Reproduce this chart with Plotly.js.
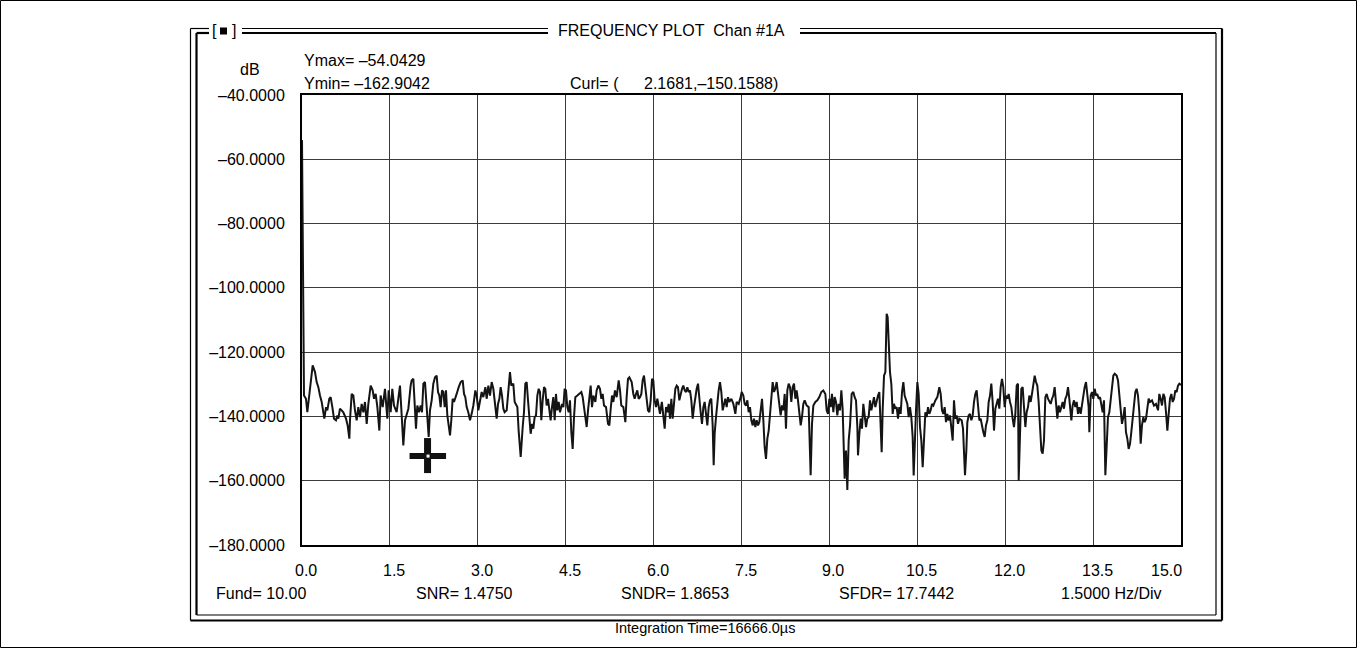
<!DOCTYPE html>
<html><head><meta charset="utf-8">
<script src="https://cdn.plot.ly/plotly-3.0.1.min.js"></script>
<style>html,body{margin:0;padding:0;background:#fff;}#chart{width:1357px;height:648px;}</style>
</head><body><div id="chart"></div>
<script>
// ---- data ----
const spectrum = [ // [frequency Hz, level dB]
[0.000,-54.04],[0.012,-97.9],[0.024,-131.5],
[0.034,-133.5],[0.068,-134.5],[0.091,-138.7],[0.182,-124.1],[0.222,-126.2],[0.250,-129.3],[0.279,-130.9],[0.307,-133.5],[0.336,-135.5],[0.364,-138.7],[0.381,-140.7],[0.410,-137.1],[0.432,-138.1],[0.466,-134.5],[0.489,-134.0],[0.518,-137.1],[0.546,-140.7],[0.580,-141.2],[0.603,-139.7],[0.620,-140.7],[0.648,-137.6],[0.677,-138.1],[0.705,-138.7],[0.751,-140.7],[0.779,-142.8],[0.808,-146.9],[0.819,-141.2],[0.848,-133.0],[0.876,-133.5],[0.904,-138.1],[0.933,-141.2],[0.961,-137.1],[0.990,-140.2],[1.018,-136.1],[1.047,-138.7],[1.075,-135.5],[1.104,-142.3],[1.132,-136.1],[1.172,-130.4],[1.206,-131.9],[1.229,-134.5],[1.257,-133.0],[1.286,-137.1],[1.320,-144.4],[1.342,-133.5],[1.377,-137.1],[1.416,-131.4],[1.456,-140.7],[1.479,-131.9],[1.513,-138.7],[1.541,-131.4],[1.570,-136.6],[1.615,-138.7],[1.650,-133.5],[1.672,-130.4],[1.706,-141.2],[1.729,-149.0],[1.758,-141.2],[1.786,-139.7],[1.815,-137.6],[1.854,-130.4],
[1.871,-128.8],[1.900,-128.3],[1.923,-137.1],[1.945,-143.8],[1.968,-136.6],[1.997,-138.7],[2.025,-136.6],[2.048,-138.7],[2.071,-129.8],[2.099,-129.3],[2.116,-134.0],[2.139,-140.2],[2.162,-146.4],[2.184,-138.1],[2.213,-135.0],[2.241,-129.8],[2.270,-127.8],[2.298,-127.3],[2.321,-132.4],[2.344,-133.5],[2.366,-137.1],[2.389,-131.9],[2.412,-132.4],[2.435,-137.1],[2.457,-131.9],[2.480,-139.7],[2.503,-143.3],[2.526,-145.9],[2.548,-141.2],[2.571,-134.5],[2.594,-135.5],[2.617,-134.5],[2.639,-133.0],[2.674,-130.9],[2.708,-129.3],[2.742,-128.8],[2.765,-133.0],[2.787,-134.0],[2.810,-137.1],[2.838,-138.7],[2.867,-141.2],[2.895,-139.2],[2.924,-136.6],[2.958,-131.9],[2.981,-133.5],[3.009,-138.1],[3.038,-134.5],[3.066,-132.4],[3.094,-134.0],[3.129,-130.9],[3.151,-134.5],[3.180,-130.4],[3.208,-133.5],[3.237,-129.3],[3.265,-131.4],[3.294,-137.1],[3.322,-140.7],[3.345,-136.1],[3.368,-134.5],[3.390,-130.9],[3.413,-133.5],[3.436,-137.6],[3.458,-138.7],[3.493,-138.1],[3.527,-129.8],[3.549,-126.2],[3.572,-130.4],[3.606,-129.8],[3.629,-135.5],[3.652,-136.1],[3.675,-137.1],[3.697,-144.4],[3.732,-152.6],
[3.766,-143.3],[3.788,-138.7],[3.811,-129.8],[3.834,-129.3],[3.857,-135.0],[3.879,-141.2],[3.902,-145.4],[3.925,-142.3],[3.948,-143.8],[3.970,-140.2],[3.993,-139.7],[4.016,-133.5],[4.039,-131.4],[4.061,-132.4],[4.084,-141.2],[4.107,-135.0],[4.130,-130.9],[4.152,-131.4],[4.175,-136.6],[4.198,-134.5],[4.221,-138.7],[4.243,-141.2],[4.266,-137.1],[4.289,-134.0],[4.312,-141.2],[4.334,-133.0],[4.357,-138.1],[4.380,-135.5],[4.403,-138.7],[4.437,-136.1],[4.460,-137.1],[4.482,-131.4],[4.505,-131.9],[4.528,-137.1],[4.551,-138.7],[4.573,-135.0],[4.596,-144.9],[4.619,-150.1],[4.642,-140.2],[4.664,-134.0],[4.699,-133.5],[4.733,-133.0],[4.767,-132.4],[4.790,-134.0],[4.812,-137.1],[4.835,-140.2],[4.858,-143.3],[4.881,-138.1],[4.903,-133.0],[4.926,-130.4],[4.949,-137.1],[4.972,-133.5],[5.006,-135.5],[5.028,-131.9],[5.057,-130.4],[5.085,-131.4],[5.108,-134.5],[5.131,-133.0],[5.154,-136.6],[5.188,-137.1],[5.222,-142.3],[5.245,-142.8],[5.268,-137.6],[5.290,-133.5],[5.313,-135.5],[5.341,-131.9],[5.370,-134.0],[5.404,-128.8],[5.427,-131.9],[5.449,-136.6],[5.484,-137.1],[5.518,-141.8],[5.540,-134.0],[5.563,-128.3],[5.586,-127.8],
[5.626,-129.3],[5.654,-133.0],[5.677,-134.5],[5.700,-133.0],[5.722,-131.9],[5.745,-134.5],[5.768,-134.0],[5.791,-133.0],[5.813,-128.8],[5.836,-127.3],[5.859,-130.9],[5.882,-134.0],[5.904,-138.1],[5.927,-138.7],[5.950,-135.0],[5.973,-128.3],[5.995,-128.8],[6.018,-135.0],[6.041,-137.1],[6.064,-134.5],[6.086,-137.1],[6.109,-139.2],[6.141,-135.5],[6.166,-140.2],[6.189,-143.8],[6.212,-137.1],[6.235,-138.7],[6.257,-136.1],[6.280,-140.7],[6.303,-134.5],[6.325,-140.7],[6.348,-136.1],[6.371,-131.4],[6.394,-130.4],[6.416,-130.9],[6.439,-135.0],[6.462,-133.0],[6.485,-131.4],[6.507,-130.4],[6.530,-131.9],[6.553,-132.4],[6.576,-130.9],[6.598,-132.4],[6.621,-131.9],[6.644,-135.0],[6.667,-140.7],[6.689,-137.1],[6.712,-133.5],[6.735,-131.4],[6.758,-129.8],[6.780,-135.0],[6.803,-138.7],[6.826,-142.3],[6.849,-137.1],[6.871,-135.5],[6.894,-140.2],[6.917,-142.8],[6.940,-137.1],[6.962,-135.0],[6.985,-134.5],[7.008,-142.8],[7.025,-155.2],[7.042,-145.4],[7.065,-140.2],[7.088,-134.5],[7.110,-131.9],[7.133,-129.3],[7.156,-132.4],[7.179,-138.1],[7.201,-136.6],[7.224,-134.5],[7.247,-137.1],[7.270,-134.0],[7.292,-135.5],[7.327,-134.5],[7.361,-136.1],[7.395,-139.2],[7.418,-135.5],[7.452,-136.1],[7.486,-134.0],
[7.503,-132.4],[7.531,-133.5],[7.554,-136.1],[7.577,-136.6],[7.600,-135.0],[7.622,-138.7],[7.645,-137.1],[7.668,-141.2],[7.691,-142.8],[7.713,-140.7],[7.736,-143.3],[7.759,-141.2],[7.782,-142.8],[7.804,-141.8],[7.827,-137.1],[7.850,-134.5],[7.873,-141.2],[7.895,-149.5],[7.918,-153.2],[7.941,-146.9],[7.964,-144.4],[7.986,-140.2],[8.009,-134.5],[8.032,-129.3],[8.055,-132.4],[8.077,-131.4],[8.100,-129.3],[8.123,-133.5],[8.146,-135.5],[8.168,-139.7],[8.191,-136.6],[8.214,-138.1],[8.237,-133.0],[8.259,-143.8],[8.282,-131.9],[8.305,-129.8],[8.328,-130.9],[8.350,-135.5],[8.373,-130.9],[8.396,-129.8],[8.419,-134.5],[8.441,-131.9],[8.464,-135.0],[8.487,-138.7],[8.510,-142.8],[8.532,-140.2],[8.555,-136.1],[8.578,-135.0],[8.612,-136.6],[8.646,-137.1],[8.669,-147.5],[8.680,-158.3],[8.703,-142.3],[8.726,-136.6],[8.760,-135.5],[8.794,-135.0],[8.828,-134.0],[8.862,-132.4],[8.896,-131.9],[8.931,-133.0],[8.953,-138.1],[8.976,-139.2],[8.999,-134.5],[9.022,-137.1],[9.044,-133.0],[9.067,-138.7],[9.090,-134.0],[9.113,-135.5],[9.135,-139.7],[9.158,-136.1],[9.181,-138.1],[9.204,-131.9],[9.226,-137.6],[9.249,-152.6],[9.260,-159.4],[9.283,-150.6],[9.306,-162.90],[9.329,-147.5],[9.352,-142.8],
[9.380,-133.0],[9.408,-132.4],[9.431,-134.0],[9.454,-135.0],[9.477,-143.3],[9.488,-152.1],[9.511,-145.4],[9.534,-140.7],[9.556,-143.8],[9.579,-136.1],[9.602,-139.7],[9.625,-143.3],[9.647,-140.7],[9.670,-140.2],[9.693,-135.0],[9.716,-138.1],[9.738,-136.1],[9.761,-134.0],[9.784,-137.1],[9.807,-135.0],[9.829,-133.5],[9.852,-132.4],[9.875,-142.3],[9.892,-151.1],[9.909,-138.1],[9.932,-127.3],[9.955,-126.2],[9.977,-108.1],[9.994,-109.1],[10.011,-117.4],[10.034,-126.2],[10.057,-129.9],[10.080,-139.2],[10.102,-136.1],[10.125,-137.6],[10.148,-137.1],[10.171,-140.7],[10.193,-137.1],[10.216,-139.2],[10.239,-132.4],[10.262,-129.3],[10.284,-133.5],[10.307,-135.0],[10.330,-136.1],[10.353,-140.2],[10.375,-137.1],[10.398,-140.2],[10.421,-146.4],[10.438,-158.4],[10.455,-147.5],[10.478,-138.1],[10.501,-129.3],[10.523,-133.0],[10.546,-143.3],[10.569,-147.5],[10.592,-155.8],[10.614,-146.4],[10.637,-138.7],[10.660,-140.2],[10.683,-137.1],[10.705,-139.2],[10.728,-138.1],[10.751,-136.1],[10.774,-136.6],[10.808,-135.0],[10.842,-134.0],[10.876,-130.9],[10.899,-133.0],[10.922,-138.1],[10.944,-139.2],[10.967,-137.1],[10.990,-141.8],[11.013,-139.2],[11.035,-141.3],[11.058,-139.7],[11.081,-143.3],[11.104,-147.5],[11.126,-135.0],[11.149,-140.7],[11.172,-139.7],[11.195,-142.3],[11.217,-140.7],
[11.257,-141.2],[11.280,-143.8],[11.297,-152.6],[11.314,-158.3],[11.337,-150.6],[11.354,-141.8],[11.377,-139.7],[11.399,-139.2],[11.422,-141.2],[11.445,-139.7],[11.468,-135.5],[11.490,-133.0],[11.513,-131.9],[11.536,-136.6],[11.559,-141.2],[11.581,-140.7],[11.604,-143.3],[11.627,-144.9],[11.650,-146.4],[11.672,-142.8],[11.695,-141.2],[11.718,-135.5],[11.741,-133.5],[11.763,-129.8],[11.786,-135.5],[11.809,-144.4],[11.832,-137.6],[11.854,-135.5],[11.877,-134.5],[11.900,-137.6],[11.923,-130.9],[11.945,-128.3],[11.968,-130.9],[11.991,-137.1],[12.014,-133.5],[12.036,-134.5],[12.059,-133.0],[12.082,-135.5],[12.105,-137.1],[12.127,-140.7],[12.150,-143.3],[12.173,-139.2],[12.196,-130.4],[12.218,-129.8],[12.230,-159.9],[12.253,-145.4],[12.275,-131.4],[12.298,-130.9],[12.321,-137.1],[12.344,-143.3],[12.366,-138.7],[12.389,-137.1],[12.412,-133.5],[12.435,-135.5],[12.457,-133.0],[12.480,-129.8],[12.503,-127.3],[12.526,-129.3],[12.548,-130.4],[12.571,-135.5],[12.594,-144.4],[12.617,-150.6],[12.639,-151.6],[12.662,-147.5],[12.685,-134.0],[12.708,-133.0],[12.730,-134.5],[12.753,-135.5],[12.776,-136.1],[12.799,-134.5],[12.821,-133.5],[12.844,-130.9],[12.867,-136.1],[12.890,-140.7],[12.912,-136.6],[12.935,-138.7],[12.958,-137.1],[12.981,-135.5],[13.003,-137.6],[13.026,-134.5],[13.049,-133.5],[13.072,-130.9],[13.094,-134.5],
[13.129,-141.2],[13.151,-136.6],[13.174,-135.0],[13.197,-137.1],[13.220,-135.5],[13.242,-139.2],[13.265,-137.1],[13.288,-139.2],[13.311,-136.1],[13.333,-133.0],[13.356,-130.9],[13.379,-129.3],[13.402,-134.5],[13.424,-137.1],[13.436,-144.9],[13.459,-133.5],[13.481,-132.4],[13.504,-134.5],[13.527,-131.4],[13.550,-133.5],[13.572,-133.0],[13.595,-134.5],[13.618,-134.0],[13.641,-137.1],[13.663,-138.7],[13.686,-135.0],[13.697,-146.4],[13.709,-158.3],[13.731,-149.5],[13.754,-140.2],[13.777,-138.7],[13.800,-134.5],[13.822,-130.4],[13.845,-127.3],[13.868,-126.7],[13.902,-127.3],[13.925,-128.8],[13.948,-133.0],[13.970,-138.7],[13.993,-142.3],[14.016,-140.2],[14.039,-137.1],[14.061,-144.9],[14.084,-146.9],[14.107,-150.1],[14.130,-148.5],[14.152,-144.9],[14.175,-141.2],[14.198,-137.1],[14.221,-132.4],[14.243,-131.4],[14.266,-133.5],[14.289,-138.7],[14.312,-148.5],[14.334,-142.8],[14.357,-140.2],[14.380,-141.8],[14.403,-140.7],[14.425,-137.6],[14.448,-134.5],[14.471,-135.5],[14.505,-135.0],[14.539,-136.6],[14.573,-136.1],[14.608,-138.1],[14.630,-133.0],[14.653,-134.5],[14.676,-136.6],[14.699,-133.0],[14.721,-134.0],[14.744,-138.7],[14.767,-144.4],[14.790,-139.2],[14.812,-134.5],[14.835,-133.0],[14.858,-135.5],[14.881,-134.5],[14.903,-131.9],[14.926,-132.4],[14.949,-130.4],[14.972,-129.8],[15.000,-130.2]
];
const xTickVals = [0, 1.5, 3, 4.5, 6, 7.5, 9, 10.5, 12, 13.5, 15];
const xTickText = ["0.0","1.5","3.0","4.5","6.0","7.5","9.0","10.5","12.0","13.5","15.0"];
const yTickVals = [-40, -60, -80, -100, -120, -140, -160, -180];
const yTickText = ["\u201340.0000","\u201360.0000","\u201380.0000","\u2013100.0000","\u2013120.0000","\u2013140.0000","\u2013160.0000","\u2013180.0000"];
const cursorFreq = [2.1681];
const cursorDb = [-150.1588];
const headerTitle = "FREQUENCY PLOT\u00a0\u00a0Chan #1A";
const yUnit = "dB";
const yMaxText = "Ymax= \u201354.0429";
const yMinText = "Ymin= \u2013162.9042";
const cursorLabel = "Curl= (";
const cursorValue = "2.1681,\u2013150.1588)";
const statTexts = ["Fund= 10.00", "SNR= 1.4750", "SNDR= 1.8653", "SFDR= 17.7442", "1.5000 Hz/Div"];
const footerText = "Integration Time=16666.0\u00b5s";

// ---- layout geometry (pixels) ----
const L = 302, R = 1181, T = 95, B = 545;
const px = p => (p - L) / (R - L);
const py = p => (B - p) / (B - T);
const FONT = "Liberation Sans, Arial, sans-serif";

const shapes = [];
function hl(x0, x1, y, w) { shapes.push({type:'line', xref:'paper', yref:'paper', x0:px(x0), x1:px(x1), y0:py(y), y1:py(y), line:{color:'#000', width:w}}); }
function vl(x, y0, y1, w) { shapes.push({type:'line', xref:'paper', yref:'paper', x0:px(x), x1:px(x), y0:py(y0), y1:py(y1), line:{color:'#000', width:w}}); }

// page border
shapes.push({type:'rect', xref:'paper', yref:'paper', x0:px(0.5), x1:px(1356.5), y0:py(0.5), y1:py(647.5), line:{color:'#000', width:1}});
// double frame
const OL = 190.5, OR = 1222, OT = 28.5, OB = 620.5;
const IL = 196.5, IR = 1216, IT = 33, IB = 615;
vl(OL, OT, OB, 1.2); hl(OL, OR, OB, 2.2); vl(OR, OT, OB, 2.2);
vl(IL, IT, IB, 2.2); hl(IL, IR, IB, 1.2); vl(IR, IT, IB, 1.2);
// top lines interrupted by labels
[[OL, 209], [242, 548], [800, OR]].forEach(s => hl(s[0], s[1], OT, 1.2));
[[IL, 209], [242, 548], [800, IR]].forEach(s => hl(s[0], s[1], IT, 2.2));
// small square in [ ]
shapes.push({type:'rect', xref:'paper', yref:'paper', x0:px(220), x1:px(227), y0:py(27.5), y1:py(34.5), fillcolor:'#000', line:{width:0}});

// cursor cross, anchored on the cursor value
function cur(x0, x1, y0, y1, c) {
  shapes.push({type:'rect', xref:'x', yref:'y', xsizemode:'pixel', ysizemode:'pixel',
    xanchor: cursorFreq[0], yanchor: cursorDb[0], x0:x0, x1:x1, y0:y0, y1:y1,
    fillcolor:c, line:{width:0}, layer:'above'});
}
cur(-19.5, 17, -10, -4, '#111');
cur(-5, 2, -24, 11, '#111');
cur(-2.5, 0.5, -8.5, -5.5, '#fff');

const annotations = [];
function txt(t, x, y, o) {
  annotations.push(Object.assign({text:t, xref:'paper', yref:'paper', x:px(x), y:py(y),
    xanchor:'left', yanchor:'middle', showarrow:false, borderpad:0,
    font:{family:FONT, size:16, color:'#000'}}, o || {}));
}
txt("[", 211, 31);
txt("]", 231, 31);
txt(headerTitle, 557, 30);
txt(yUnit, 239, 70);
txt(yMaxText, 303, 60);
txt(yMinText, 303, 83);
txt(cursorLabel, 569, 83);
txt(cursorValue, 643, 83);
const statX = [215, 415, 620, 838, 1060];
statTexts.forEach((s, i) => txt(s, statX[i], 593));
txt(footerText, 705, 628, {xanchor:'center', font:{family:FONT, size:14.5, color:'#000'}});
// x tick labels
xTickVals.forEach((v, i) => {
  const last = i === xTickVals.length - 1;
  annotations.push({text:xTickText[i], xref:'x', yref:'paper', x:v, y:py(570),
    xanchor: last ? 'right' : 'center', yanchor:'middle', xshift: last ? 2 : 4, showarrow:false, borderpad:0,
    font:{family:FONT, size:16, color:'#000'}});
});

const trace = {
  type:'scatter', mode:'lines',
  x: spectrum.map(p => p[0]), y: spectrum.map(p => p[1]),
  line:{color:'#141414', width:2}, hoverinfo:'skip'
};

const layout = {
  width:1357, height:648,
  margin:{l:L, r:1357 - R, t:T, b:648 - B, pad:0},
  paper_bgcolor:'#fff', plot_bgcolor:'#fff', showlegend:false,
  font:{family:FONT, size:16, color:'#000'},
  xaxis:{range:[0, 15], tickvals:xTickVals, showticklabels:false, ticks:'',
    showgrid:true, gridcolor:'#3a3a3a', gridwidth:1, zeroline:false,
    showline:true, mirror:true, linecolor:'#000', linewidth:2, fixedrange:true, automargin:false},
  yaxis:{range:[-180, -40], tickvals:yTickVals, ticktext:yTickText, ticks:'', ticklabelstandoff:12,
    tickfont:{family:FONT, size:16, color:'#000'},
    showgrid:true, gridcolor:'#3a3a3a', gridwidth:1, zeroline:false,
    showline:true, mirror:true, linecolor:'#000', linewidth:2, fixedrange:true, automargin:false},
  shapes:shapes, annotations:annotations, hovermode:false
};
Plotly.newPlot('chart', [trace], layout, {displayModeBar:false, staticPlot:true});
</script></body></html>
